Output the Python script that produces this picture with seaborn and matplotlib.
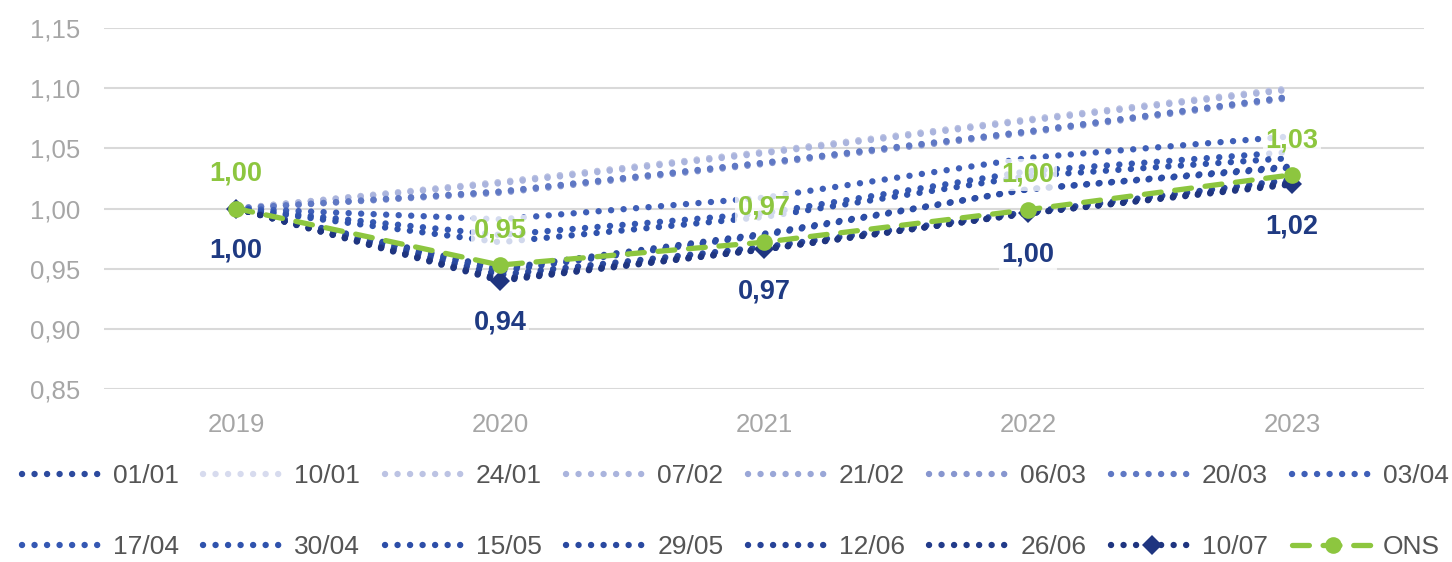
import matplotlib
matplotlib.use("Agg")
import matplotlib.pyplot as plt
from matplotlib.ticker import FuncFormatter
import seaborn as sns
import pandas as pd

# Years on the horizontal axis
years = [2019, 2020, 2021, 2022, 2023]

# Forecast vintages (dd/mm) and their projected index values
vintages = ["01/01", "10/01", "24/01", "07/02", "21/02", "06/03", "20/03", "03/04",
            "17/04", "30/04", "15/05", "29/05", "12/06", "26/06", "10/07"]

v_01_01 = [1.00, 0.950, 0.979, 1.016, 1.035]
v_10_01 = [1.00, 1.022, 1.047, 1.074, 1.100]
v_24_01 = [1.00, 1.022, 1.047, 1.074, 1.100]
v_07_02 = [1.00, 1.021, 1.046, 1.073, 1.099]
v_21_02 = [1.00, 1.014, 1.038, 1.064, 1.093]
v_06_03 = [1.00, 1.013, 1.037, 1.063, 1.092]
v_20_03 = [1.00, 1.014, 1.038, 1.064, 1.093]
v_03_04 = [1.00, 0.991, 1.009, 1.042, 1.060]
v_17_04 = [1.00, 0.978, 0.996, 1.031, 1.047]
v_30_04 = [1.00, 0.972, 0.993, 1.027, 1.042]
v_15_05 = [1.00, 0.948, 0.978, 1.016, 1.034]
v_29_05 = [1.00, 0.945, 0.968, 0.997, 1.024]
v_12_06 = [1.00, 0.942, 0.967, 0.996, 1.022]
v_26_06 = [1.00, 0.941, 0.966, 0.996, 1.021]
v_10_07 = [1.00, 0.940, 0.966, 0.996, 1.020]

# Official series
ons = [1.00, 0.953, 0.972, 0.999, 1.028]

vintage_values = [v_01_01, v_10_01, v_24_01, v_07_02, v_21_02, v_06_03, v_20_03, v_03_04,
                  v_17_04, v_30_04, v_15_05, v_29_05, v_12_06, v_26_06, v_10_07]

vintage_colors = ["#2c4a9e", "#d7dbee", "#bcc3e3", "#aab4dd", "#9aa7d7", "#8796cf",
                  "#5f78c4", "#3f5fb8", "#3558b3", "#3053ad", "#2d4ea8", "#2a49a0",
                  "#274398", "#223b8a", "#1f3580"]
green = "#8dc63f"
navy_label = "#1f3a82"

sns.set_theme(style="white")
plt.rcParams["font.family"] = ["Liberation Sans", "DejaVu Sans"]

fig = plt.figure(figsize=(14.52, 5.62), dpi=100)
ax = fig.add_axes([104 / 1452, 1 - 389 / 562, 1320 / 1452, 361 / 562])

frames = []
for name, vals in zip(vintages, vintage_values):
    frames.append(pd.DataFrame({"year": years, "value": vals, "series": name}))
frames.append(pd.DataFrame({"year": years, "value": ons, "series": "ONS"}))
df = pd.concat(frames, ignore_index=True)

# Dotted forecast lines, oldest drawn first
for i, (name, color) in enumerate(zip(vintages, vintage_colors)):
    sub = df[df["series"] == name]
    is_last = name == "10/07"
    sns.lineplot(data=sub, x="year", y="value", ax=ax, color=color, label=name,
                 linewidth=4.6, marker="D" if is_last else None,
                 markersize=10 if is_last else 0, markeredgewidth=0,
                 zorder=3 + i * 0.01)
    line = ax.lines[-1]
    line.set_dashes((0.01, 1.95))
    line.set_dash_capstyle("round")

# Official series: green dashes with round markers
sub = df[df["series"] == "ONS"]
sns.lineplot(data=sub, x="year", y="value", ax=ax, color=green, label="ONS",
             linewidth=3.8, marker="o", markersize=12, markeredgewidth=0, zorder=5)
ons_line = ax.lines[-1]
ons_line.set_dashes((3.2, 2.6))
ons_line.set_dash_capstyle("round")


def comma(v, decimals=2):
    return f"{v:.{decimals}f}".replace(".", ",")


label_box = dict(boxstyle="square,pad=0.1", facecolor="white", edgecolor="none", alpha=0.78)
for x, v in zip(years, ons):
    ax.annotate(comma(v), (x, v), xytext=(0, 25), textcoords="offset points",
                ha="center", va="center", fontsize=19.5, fontweight="bold",
                color=green, bbox=label_box, zorder=10)
for x, v in zip(years, v_10_07):
    ax.annotate(comma(v), (x, v), xytext=(0, -30), textcoords="offset points",
                ha="center", va="center", fontsize=19.5, fontweight="bold",
                color=navy_label, bbox=label_box, zorder=10)

ax.set_xlim(2018.5, 2023.5)
ax.set_ylim(0.85, 1.15)
ax.set_xticks(years)
ax.set_xticklabels([str(y) for y in years])
ax.set_yticks([0.85, 0.90, 0.95, 1.00, 1.05, 1.10, 1.15])
ax.yaxis.set_major_formatter(FuncFormatter(lambda v, p: comma(v)))
ax.set_xlabel("")
ax.set_ylabel("")
ax.grid(axis="y", color="#d9d9d9", linewidth=1.5)
ax.grid(axis="x", visible=False)
ax.set_axisbelow(True)
for s in ax.spines.values():
    s.set_visible(False)
ax.tick_params(axis="both", length=0, labelsize=18.5, labelcolor="#a6a6a6")
ax.tick_params(axis="y", pad=17)
ax.tick_params(axis="x", pad=17)

# Legend filled row by row: 8 columns, 2 rows
handles, labels = ax.get_legend_handles_labels()
ax.get_legend().remove()
ncol = 8
order = []
for c in range(ncol):
    order.extend([c, c + ncol])
handles = [handles[k] for k in order]
labels = [labels[k] for k in order]
fig.legend(handles, labels, loc="upper left", ncol=ncol, mode="expand",
           bbox_to_anchor=(22 / 1452, 1 - 464 / 562, 1427 / 1452, 0),
           frameon=False, fontsize=19, labelcolor="#555555",
           handlelength=3.1, handletextpad=0.35, columnspacing=0.5,
           labelspacing=1.8, borderpad=0, borderaxespad=0)

fig.savefig("out.png", dpi=100)
